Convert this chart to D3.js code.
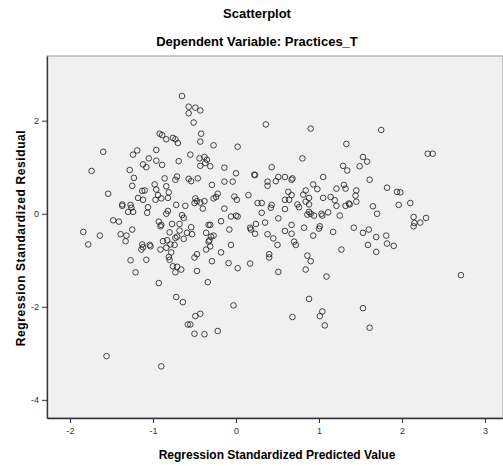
<!DOCTYPE html>
<html>
<head>
<meta charset="utf-8">
<script src="https://cdn.jsdelivr.net/npm/d3@7"></script>
<style>
    body { margin: 0; background: #fff; }
    text { font-family: "Liberation Sans", Arial, sans-serif; }
</style>
</head>
<body>
<div id="chart"></div>
<script>
// predicted value (x) and residual (y)
const predicted = [
    -0.65, -0.57, -0.57, -0.49, -0.43, -0.51, -0.92, -0.89, -0.84, -0.76, -0.73, -0.70, -0.42, -0.43, -1.60, -1.24, -1.19, -0.96, -1.05, -0.96,
    -1.12, -1.08, -0.89, -0.69, -0.55, -0.44, -0.38, -0.35, -0.43, -0.37, -1.74, -1.28, -1.23, -1.25, -0.86, -0.73, -0.71, -0.57, -0.54, -0.46,
    -1.54, -0.98, -0.84, -0.96, -0.81, -1.13, -1.10, -0.94, -1.18, -1.12, -0.97, -0.90, -0.82, -1.37, -1.37, -1.27, -1.26, -1.30, -1.24, -1.06,
    -1.07, -0.72, -0.61, -0.49, -0.47, -0.50, -0.43, -0.38, -0.40, -0.82, -0.84, -0.65, -0.63, -1.48, -1.41, -0.93, -0.90, -0.77, -0.68, -0.54,
    -0.33, -1.25, -1.84, -1.64, -1.78, -1.39, -1.32, -1.33, -1.13, -1.12, -1.14, -1.04, -1.03, -1.27, -1.08, -1.21, -0.91, -0.80, -0.68, -0.59,
    -0.53, -0.36, -0.73, -0.71, -0.88, -0.83, -0.63, -0.33, -0.79, -0.74, -0.84, -0.91, -0.78, -0.36, -0.81, -0.80, -0.50, -0.47, -0.76, -0.71,
    -0.73, -0.66, -0.47, -0.34, -0.93, -0.72, -0.64, -0.49, -0.43, -0.58, -0.55, -0.50, -0.38, -1.56, -0.90,
    0.36, 0.90, 1.33, -0.27, 0.02, 0.80, -0.31, -0.14, 0.43, 1.29, 1.34, 0.00, 0.22, 0.23, 0.68, 0.67, 0.59, 0.51, 0.48, 0.38,
    0.38, 1.05, -0.14, -0.04, -0.29, 0.93, 0.98, 1.21, 1.30, 1.32, 0.63, 0.84, 0.81, 0.67, 0.59, 0.64, 0.88, 0.84, 0.88, 1.05,
    1.14, 1.19, 1.21, 1.32, 1.36, 0.15, -0.02, 0.01, -0.24, -0.22, -0.27, 0.26, 0.31, 0.43, 0.42, 0.74, 0.76, -0.14, 0.31, 0.59,
    0.88, 0.90, 0.86, 0.94, 1.04, 1.03, 1.11, 1.25, -0.06, 0.00, 0.02, 0.51, -0.18, 0.24, 0.35, 0.67, -0.31, 0.17, -0.08, 0.82,
    1.01, -0.27, -0.30, -0.32, -0.31, -0.18, 0.18, 0.23, 0.38, 0.45, 0.50, 0.59, 0.67, 0.70, 0.72, 0.93, 1.00, 1.17, 1.27, -0.06,
    -0.29, -0.09, 0.02, 0.17, 0.40, 0.40, 0.51, 0.86, 0.90, 0.84, 1.09, -0.03, -0.22, 0.88, 0.68, 1.04, 1.01, 1.07,
    1.75, 2.31, 2.37, 1.53, 1.58, 1.49, 1.61, 1.45, 1.44, 1.45, 1.37, 1.82, 1.94, 1.98, 1.96, 2.10, 1.65, 1.70, 2.14, 2.29,
    2.22, 2.15, 2.14, 1.42, 1.60, 1.53, 1.69, 1.81, 1.82, 1.90, 1.59, 1.69, 2.71, 1.53, 1.61
];
const residual = [
    2.53, 2.30, 2.16, 2.28, 2.22, 1.96, 1.72, 1.69, 1.60, 1.63, 1.60, 1.52, 1.72, 1.55, 1.33, 1.27, 1.36, 1.37, 1.19, 1.14,
    1.06, 1.00, 1.05, 1.13, 1.27, 1.19, 1.22, 1.16, 1.03, 1.09, 0.92, 0.94, 0.77, 0.60, 0.76, 0.73, 0.80, 0.75, 0.70, 0.76,
    0.43, 0.63, 0.59, 0.52, 0.46, 0.49, 0.50, 0.40, 0.34, 0.30, 0.30, 0.33, 0.34, 0.20, 0.17, 0.19, 0.13, 0.04, 0.04, 0.14,
    0.02, 0.19, 0.17, 0.33, 0.27, 0.23, 0.24, 0.27, 0.11, 0.06, 0.00, -0.03, -0.09, -0.14, -0.17, -0.17, -0.24, -0.22, -0.22, -0.29,
    -0.24, -0.34, -0.39, -0.47, -0.66, -0.44, -0.47, -0.59, -0.66, -0.72, -0.77, -0.67, -0.70, -1.00, -0.99, -1.26, -0.27, -0.40, -0.36, -0.41,
    -0.44, -0.41, -0.52, -0.49, -0.59, -0.57, -0.54, -0.60, -0.66, -0.67, -0.73, -0.77, -0.83, -0.77, -0.93, -0.99, -0.94, -0.87, -1.13, -1.14,
    -1.26, -1.20, -1.23, -1.47, -1.49, -1.79, -1.90, -2.20, -2.15, -2.38, -2.38, -2.58, -2.59, -3.06, -3.28,
    1.92, 1.83, 1.50, 1.47, 1.44, 1.19, 1.02, 0.99, 1.00, 1.03, 0.93, 0.87, 0.84, 0.83, 0.76, 0.73, 0.79, 0.79, 0.70, 0.69,
    0.60, 0.79, 0.69, 0.69, 0.62, 0.63, 0.53, 0.54, 0.62, 0.54, 0.47, 0.50, 0.41, 0.40, 0.30, 0.30, 0.34, 0.26, 0.20, 0.34,
    0.36, 0.29, 0.17, 0.17, 0.22, 0.40, 0.37, 0.30, 0.36, 0.43, 0.33, 0.23, 0.23, 0.19, 0.13, 0.20, 0.14, 0.11, 0.02, 0.10,
    0.04, 0.00, -0.02, -0.04, -0.04, 0.00, 0.03, -0.04, -0.06, -0.04, -0.06, -0.10, -0.16, -0.22, -0.19, -0.24, -0.24, -0.30, -0.34, -0.30,
    -0.27, -0.47, -0.49, -0.57, -0.70, -0.83, -0.34, -0.43, -0.44, -0.53, -0.67, -0.37, -0.43, -0.60, -0.67, -0.47, -0.32, -0.39, -0.77, -0.67,
    -1.02, -1.06, -1.17, -1.07, -0.87, -0.94, -1.25, -0.90, -1.02, -1.20, -1.35, -1.97, -2.52, -1.83, -2.22, -2.10, -2.20, -2.40,
    1.80, 1.29, 1.29, 1.22, 1.12, 1.02, 0.73, 0.50, 0.39, 0.26, 0.20, 0.56, 0.47, 0.46, 0.19, 0.23, 0.16, 0.00, -0.07, -0.09,
    -0.19, -0.20, -0.27, -0.30, -0.34, -0.41, -0.50, -0.47, -0.64, -0.69, -0.67, -0.82, -1.32, -2.03, -2.45
];
const xTicks = [-2, -1, 0, 1, 2, 3];
const yTicks = [-4, -2, 0, 2];

const chartTitle = "Scatterplot";
const chartSubtitle = "Dependent Variable: Practices_T";
const xTitle = "Regression Standardized Predicted Value";
const yTitle = "Regression Standardized Residual";

const config = {
    containerWidth: 503,
    containerHeight: 466,
    margin: { top: 56, right: 0, bottom: 48, left: 47 },
    titleCenter: 257
};

const { containerWidth, containerHeight, margin, titleCenter } = config;
const data = predicted.map((d, i) => ({ x: d, y: residual[i] }));

const svg = d3.select("#chart")
    .append("svg")
    .attr("width", containerWidth)
    .attr("height", containerHeight);

// scales

const x = d3.scaleLinear()
    .domain([-2.277, 3.217])
    .range([margin.left, containerWidth - margin.right]);

const y = d3.scaleLinear()
    .domain([-4.39, 3.39])
    .range([containerHeight - margin.bottom, margin.top]);

// plot area

svg.append("rect")
    .attr("x", margin.left)
    .attr("y", margin.top)
    .attr("width", containerWidth - margin.right - margin.left)
    .attr("height", containerHeight - margin.bottom - margin.top)
    .attr("fill", "#f0f0f0")
    .attr("stroke", "#9a9a9a")
    .attr("stroke-width", 1);

// axes

const fmt = d => String(d);

const xAxis = svg.append("g")
    .attr("transform", `translate(0,${containerHeight - margin.bottom})`)
    .call(d3.axisBottom(x).tickValues(xTicks).tickFormat(fmt).tickSize(5).tickSizeOuter(0));

const yAxis = svg.append("g")
    .attr("transform", `translate(${margin.left},0)`)
    .call(d3.axisLeft(y).tickValues(yTicks).tickFormat(fmt).tickSize(5).tickSizeOuter(0));

[xAxis, yAxis].forEach(g => {
    g.select(".domain").attr("stroke", "#333").attr("stroke-width", 1.3);
    g.selectAll(".tick line").attr("stroke", "#333");
    g.selectAll(".tick text")
        .attr("fill", "#333")
        .style("font-size", "9px")
        .style("font-family", "'Liberation Sans', Arial, sans-serif");
});
xAxis.selectAll(".tick text").attr("dy", "0.9em");

// points

svg.append("g")
    .selectAll("circle")
    .data(data)
    .join("circle")
    .attr("cx", d => x(d.x))
    .attr("cy", d => y(d.y))
    .attr("r", 2.8)
    .attr("fill", "none")
    .attr("stroke", "#1a1a1a")
    .attr("stroke-opacity", 0.8)
    .attr("stroke-width", 1);

// titles

svg.append("text")
    .attr("x", titleCenter)
    .attr("y", 18)
    .attr("text-anchor", "middle")
    .style("font-size", "13px")
    .style("font-weight", "bold")
    .text(chartTitle);

svg.append("text")
    .attr("x", titleCenter)
    .attr("y", 46)
    .attr("text-anchor", "middle")
    .style("font-size", "13px")
    .style("font-weight", "bold")
    .text(chartSubtitle);

svg.append("text")
    .attr("x", 277)
    .attr("y", 459)
    .attr("text-anchor", "middle")
    .style("font-size", "12px")
    .style("font-weight", "bold")
    .text(xTitle);

svg.append("text")
    .attr("text-anchor", "middle")
    .attr("transform", `translate(25,${238}) rotate(-90)`)
    .style("font-size", "12px")
    .style("font-weight", "bold")
    .style("letter-spacing", "0.6px")
    .text(yTitle);
</script>
</body>
</html>
